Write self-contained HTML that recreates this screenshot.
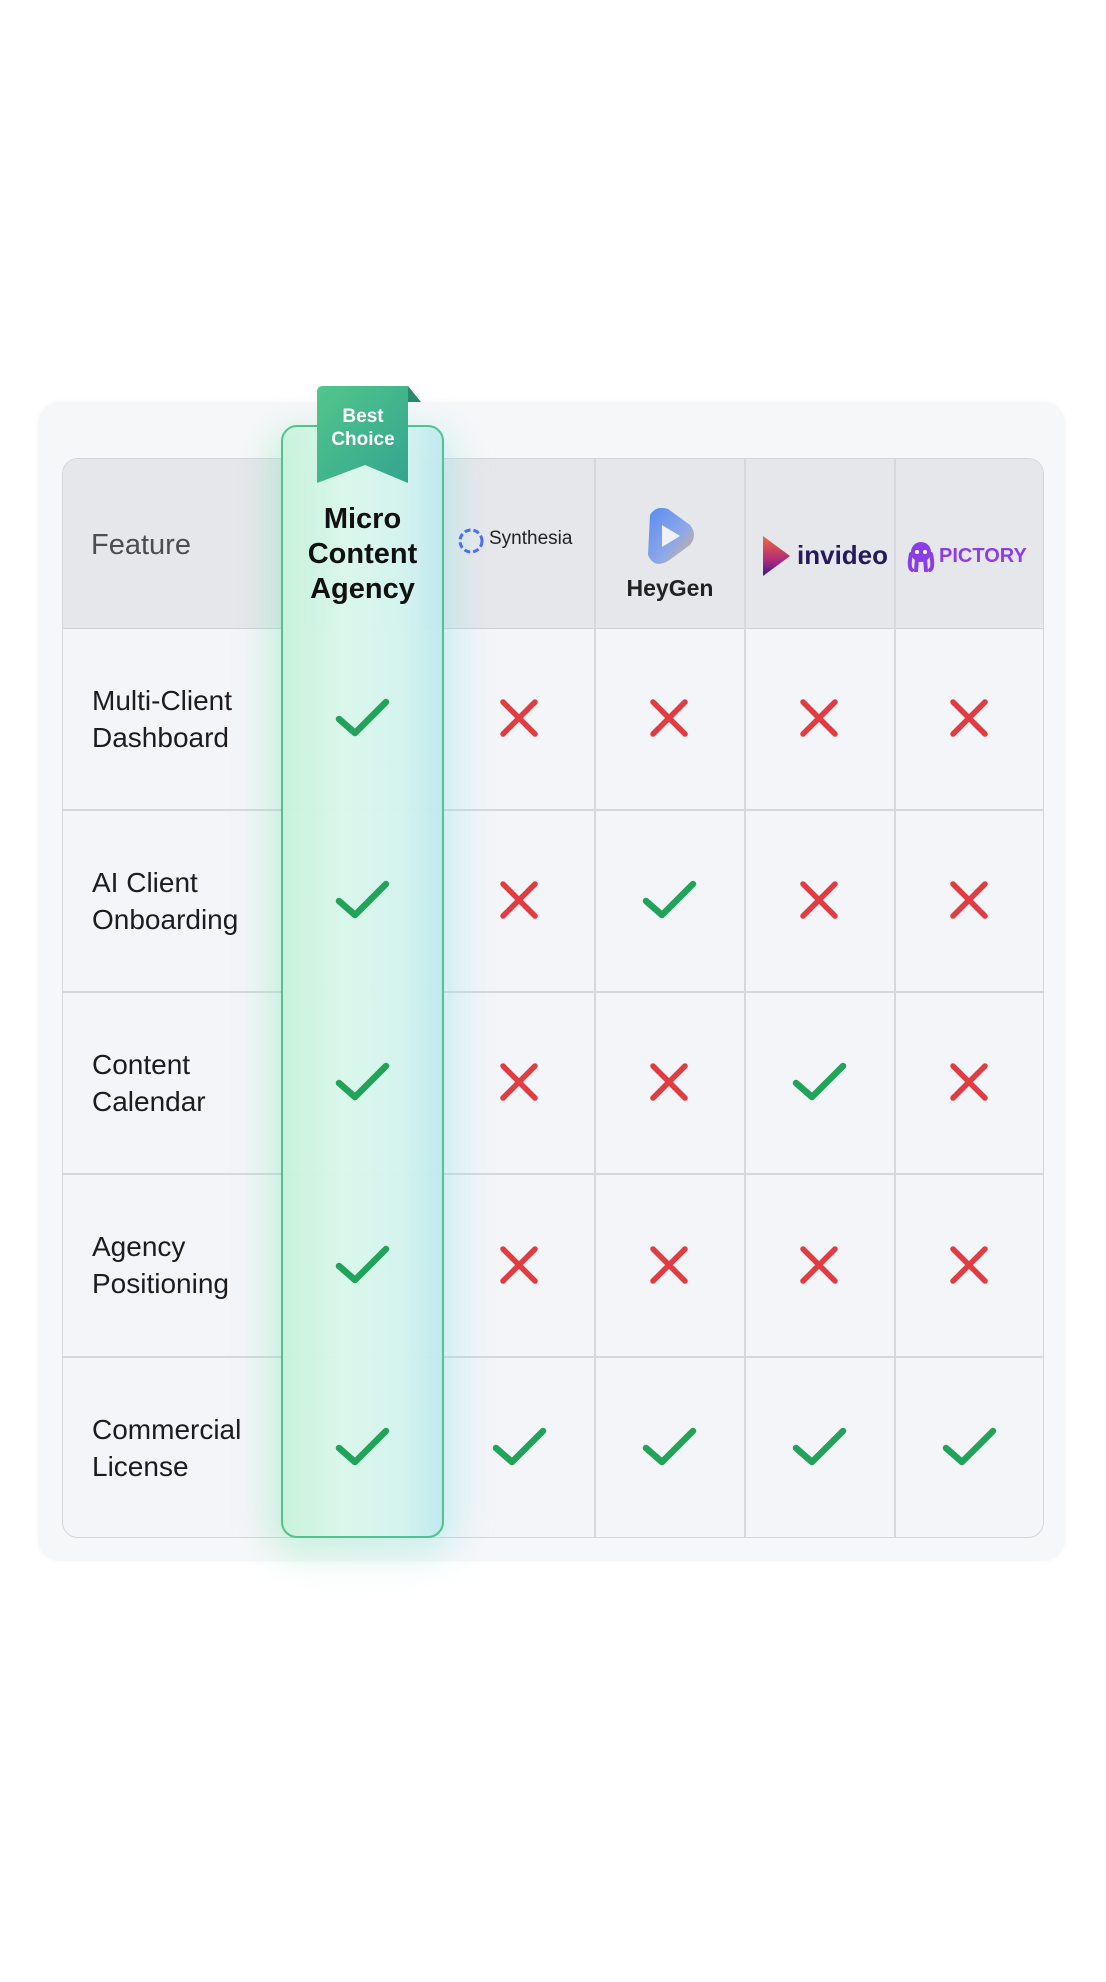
<!DOCTYPE html>
<html><head><meta charset="utf-8"><style>
html,body{margin:0;padding:0;background:#fff;}
body{width:1106px;height:1982px;position:relative;overflow:hidden;font-family:"Liberation Sans",sans-serif;}
.card{position:absolute;left:38px;top:402px;width:1027px;height:1159px;background:#f6f7f9;border-radius:22px;box-shadow:0 0 6px rgba(0,0,0,0.04);}
.tbl{position:absolute;left:62px;top:458px;width:982px;height:1080px;border:1.5px solid #d4d6db;border-radius:16px;overflow:hidden;background:#f3f5f8;box-sizing:border-box;}
.hdr{position:absolute;left:0;top:0;width:100%;height:169px;background:#e6e7eb;border-bottom:1.5px solid #d0d2d7;}
.vl{position:absolute;top:0;bottom:0;width:1.5px;background:#d6d8dc;}
.hl{position:absolute;left:0;right:0;height:1.5px;background:#d6d8dc;}
.feat{position:absolute;left:29px;font-size:28px;line-height:37px;color:#1c1c1c;}
.glow{position:absolute;left:270px;top:430px;width:186px;height:1125px;border-radius:30px;background:linear-gradient(90deg,rgba(110,230,160,.35),rgba(120,225,225,.35));filter:blur(18px);}
.col{position:absolute;left:281px;top:425px;width:163px;height:1113px;box-sizing:border-box;border:2px solid #4cc08c;border-radius:16px;background:linear-gradient(90deg,#c9f3dc 0%,#dcf8ec 40%,#d6f4f0 75%,#bfe9ee 100%);opacity:.95;}
.mca{position:absolute;left:281px;width:163px;top:502px;text-align:center;font-size:29px;line-height:35px;font-weight:600;color:#111;}
svg.m{position:absolute;}
</style></head><body>
<div class="card"></div>
<div class="tbl">
 <div class="hdr"></div>
 <div class="vl" style="left:531px"></div>
 <div class="vl" style="left:681px"></div>
 <div class="vl" style="left:831px"></div>
 <div class="hl" style="top:350px"></div>
 <div class="hl" style="top:532px"></div>
 <div class="hl" style="top:714px"></div>
 <div class="hl" style="top:897px"></div>
 <div style="position:absolute;left:28px;top:70px;font-size:29px;color:#4a4d52;">Feature</div>
 <div class="feat" style="top:223px">Multi-Client<br>Dashboard</div>
 <div class="feat" style="top:405px">AI Client<br>Onboarding</div>
 <div class="feat" style="top:587px">Content<br>Calendar</div>
 <div class="feat" style="top:769px">Agency<br>Positioning</div>
 <div class="feat" style="top:952px">Commercial<br>License</div>
</div>
<div class="glow"></div>
<div class="col"></div>
<svg class="m" style="left:315px;top:384px" width="110" height="104">
 <defs><linearGradient id="rg" x1="0" y1="0" x2="1" y2="1"><stop offset="0" stop-color="#52c68c"/><stop offset="1" stop-color="#34a48e"/></linearGradient></defs>
 <polygon points="93,2 106,18 93,18" fill="#2a8a6c"/>
 <path d="M8,2 H93 V99 L50,81 L2,99 V8 Q2,2 8,2Z" fill="url(#rg)"/>
 <text x="48" y="38" text-anchor="middle" font-family="Liberation Sans" font-size="19" font-weight="bold" fill="#fff">Best</text>
 <text x="48" y="61" text-anchor="middle" font-family="Liberation Sans" font-size="19" font-weight="bold" fill="#fff">Choice</text>
</svg>
<div class="mca">Micro<br>Content<br>Agency</div>
<svg class="m" style="left:456px;top:526px" width="30" height="30"><circle cx="15" cy="15" r="11" fill="none" stroke="#4c6ef0" stroke-width="3" stroke-dasharray="6 3"/></svg>
<div style="position:absolute;left:489px;top:528px;font-size:19px;color:#222;">Synthesia</div>
<svg class="m" style="left:642px;top:505px" width="56" height="64"><defs><linearGradient id="hg" x1="0" y1="0" x2="1" y2="1"><stop offset="0" stop-color="#5a8cf0"/><stop offset=".6" stop-color="#8fa8e8"/><stop offset="1" stop-color="#e6b070"/></linearGradient></defs><path d="M8,10 Q14,0 26,4 L48,20 Q56,30 48,40 L26,56 Q12,64 6,50 Z" fill="url(#hg)"/><path d="M20,20 L38,31 L20,42 Z" fill="#eef1f6"/></svg>
<div style="position:absolute;left:595px;width:150px;text-align:center;top:575px;font-size:23px;font-weight:bold;color:#222;">HeyGen</div>
<svg class="m" style="left:757px;top:534px" width="36" height="44"><defs><linearGradient id="ig" x1="0" y1="0" x2="0" y2="1"><stop offset="0" stop-color="#f06a3a"/><stop offset=".6" stop-color="#b02a7a"/><stop offset="1" stop-color="#3a1a8a"/></linearGradient></defs><path d="M6,2 L33,22 L6,42 Z" fill="url(#ig)"/></svg>
<div style="position:absolute;left:797px;top:540px;font-size:26px;font-weight:bold;color:#26195e;">invideo</div>
<svg class="m" style="left:906px;top:540px" width="30" height="32"><circle cx="15" cy="12" r="10" fill="#8a3ee8"/><path d="M5,14 Q2,28 6,30 M11,18 L10,31 M19,18 L20,31 M25,14 Q28,28 24,30" stroke="#8a3ee8" stroke-width="4" fill="none" stroke-linecap="round"/><circle cx="11" cy="12" r="2" fill="#fff"/><circle cx="19" cy="12" r="2" fill="#fff"/></svg>
<div style="position:absolute;left:939px;top:545px;font-size:20px;font-weight:bold;color:#8a3ee8;">PICTORY</div>
<svg class="m" style="left:0;top:0" width="1106" height="1982">
<defs>
<g id="ck"><path d="M-23,1 L-7,15 L24,-16" fill="none" stroke="#22a35a" stroke-width="6.5" stroke-linecap="round" stroke-linejoin="round"/></g>
<g id="x"><path d="M-16,-16 L16,16 M16,-16 L-16,16" fill="none" stroke="#e03c42" stroke-width="5.5" stroke-linecap="round"/></g>
</defs>
<use href="#ck" x="362" y="718"/><use href="#x" x="519" y="718"/><use href="#x" x="669" y="718"/><use href="#x" x="819" y="718"/><use href="#x" x="969" y="718"/>
<use href="#ck" x="362" y="900"/><use href="#x" x="519" y="900"/><use href="#ck" x="669" y="900"/><use href="#x" x="819" y="900"/><use href="#x" x="969" y="900"/>
<use href="#ck" x="362" y="1082"/><use href="#x" x="519" y="1082"/><use href="#x" x="669" y="1082"/><use href="#ck" x="819" y="1082"/><use href="#x" x="969" y="1082"/>
<use href="#ck" x="362" y="1265"/><use href="#x" x="519" y="1265"/><use href="#x" x="669" y="1265"/><use href="#x" x="819" y="1265"/><use href="#x" x="969" y="1265"/>
<use href="#ck" x="362" y="1447"/><use href="#ck" x="519" y="1447"/><use href="#ck" x="669" y="1447"/><use href="#ck" x="819" y="1447"/><use href="#ck" x="969" y="1447"/>
</svg>
</body></html>
